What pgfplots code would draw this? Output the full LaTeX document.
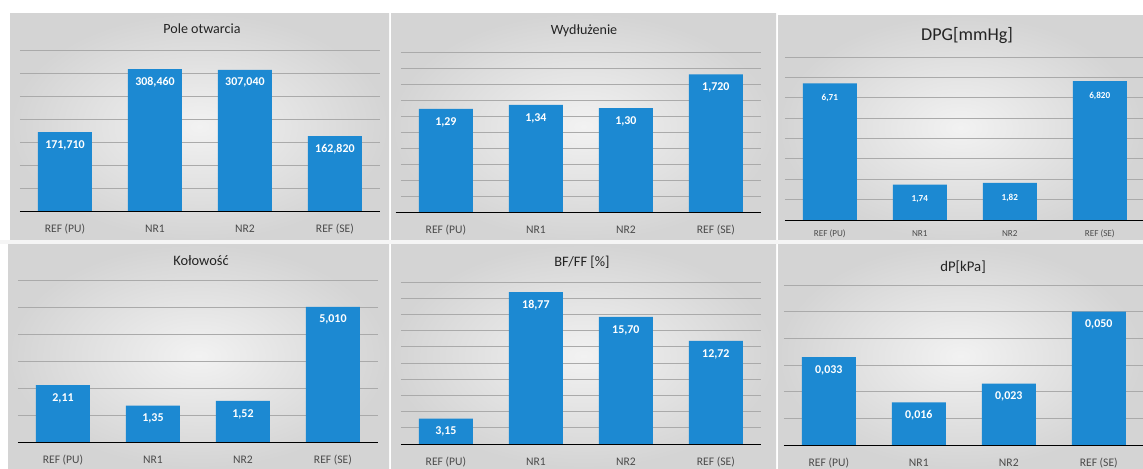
\documentclass[border=0pt]{standalone}
\usepackage{fontspec}
\setmainfont{Carlito}
\usepackage{pgfplots}
\pgfplotsset{compat=1.18}

\definecolor{barblue}{RGB}{28,137,210}
\definecolor{gridgray}{RGB}{170,170,170}
\definecolor{labgray}{RGB}{75,75,75}
\definecolor{titlegray}{RGB}{35,35,35}
\definecolor{panelin}{RGB}{242,242,242}
\definecolor{panelout}{RGB}{212,212,212}

\pgfplotsset{
  panel/.style={
    scale only axis,
    width=7.2cm,
    ymin=0,
    xmin=-0.5, xmax=3.5,
    xtick={0,1,2,3},
    xticklabels={REF (PU),NR1,NR2,REF (SE)},
    axis line style={draw=none},
    xtick style={draw=none},
    ytick style={draw=none},
    yticklabels={},
    scaled y ticks=false,
    ymajorgrids,
    grid style={gridgray, line width=0.5pt},
    xticklabel style={anchor=center, yshift=-6pt, text=labgray,
      font=\fontsize{6.6}{7}\selectfont},
    ybar,
    bar width=0.6,
    clip=false,
    nodes near coords,
    point meta=explicit symbolic,
    every node near coord/.append style={anchor=north, yshift=-1.2pt,
      text=white, font=\fontsize{6.8}{7}\selectfont\bfseries},
    anchor=south west,
  },
  baseline/.style={black, line width=0.9pt},
}

\begin{document}
\begin{tikzpicture}[x=0.02cm, y=0.02cm]
\useasboundingbox (0,0) rectangle (1143,468);
\fill[white] (0,0) rectangle (1143,468);

% panel backgrounds
\foreach \xa/\xb/\ya/\yb in {10/389/228/455, 391/776/228/455, 778/1143/228/453,
                             8/389/0/224, 391/776/0/224, 778/1143/0/224}
  \shade[inner color=panelin, outer color=panelout] (\xa,\ya) rectangle (\xb,\yb);

% titles
\node[text=titlegray, font=\fontsize{8}{9}\selectfont] at (202,439) {Pole otwarcia};
\node[text=titlegray, font=\fontsize{8}{9}\selectfont] at (584,437) {Wydłużenie};
\node[text=titlegray, font=\fontsize{10.3}{11}\selectfont] at (967,432) {DPG[mmHg]};
\node[text=titlegray, font=\fontsize{8.2}{9}\selectfont] at (201,207) {Kołowość};
\node[text=titlegray, font=\fontsize{8.2}{9}\selectfont] at (582,206) {BF/FF [\%]};
\node[text=titlegray, font=\fontsize{8.4}{9}\selectfont] at (963,201) {dP[kPa]};

% thin light seam between the two rows
\fill[white!92!gray] (0,224) rectangle (1143,228);

% Pole otwarcia
\begin{axis}[panel, at={(0.40cm,5.14cm)}, height=3.22cm, ymax=350, ytick distance=50]
\addplot[fill=barblue, draw=none] table[x=x, y=y, meta=lab] {
x y lab
0 171.71 171,710
1 308.46 308,460
2 307.04 307,040
3 162.82 162,820
};
\draw[baseline] (rel axis cs:0,0) -- (rel axis cs:1,0);
\end{axis}

% Wydluzenie
\begin{axis}[panel, at={(8.02cm,5.12cm)}, height=3.2cm, ymax=2, ytick distance=0.2]
\addplot[fill=barblue, draw=none] table[x=x, y=y, meta=lab] {
x y lab
0 1.29 1,29
1 1.34 1,34
2 1.30 1,30
3 1.72 1,720
};
\draw[baseline] (rel axis cs:-0.015,0) -- (rel axis cs:1,0);
\end{axis}

% DPG
\begin{axis}[panel, at={(15.70cm,4.96cm)}, height=3.26cm, ymax=8, ytick distance=1,
  xticklabel style={font=\fontsize{5.2}{6}\selectfont, yshift=2.6pt},
  every node near coord/.append style={font=\fontsize{5.2}{6}\selectfont\bfseries, yshift=-1.5pt}]
\addplot[fill=barblue, draw=none] table[x=x, y=y, meta=lab] {
x y lab
0 6.71 6,71
1 1.74 1,74
2 1.82 1,82
3 6.82 6,820
};
\draw[baseline] (rel axis cs:0,0) -- (rel axis cs:1,0);
\end{axis}

% Kolowosc
\begin{axis}[panel, at={(0.36cm,0.52cm)}, height=3.24cm, ymax=6, ytick distance=1]
\addplot[fill=barblue, draw=none] table[x=x, y=y, meta=lab] {
x y lab
0 2.11 2,11
1 1.35 1,35
2 1.52 1,52
3 5.01 5,010
};
\draw[baseline] (rel axis cs:0,0) -- (rel axis cs:1,0);
\end{axis}

% BF/FF
\begin{axis}[panel, at={(8.02cm,0.48cm)}, height=3.24cm, ymax=20, ytick distance=2]
\addplot[fill=barblue, draw=none] table[x=x, y=y, meta=lab] {
x y lab
0 3.15 3,15
1 18.77 18,77
2 15.70 15,70
3 12.72 12,72
};
\draw[baseline] (rel axis cs:0,0) -- (rel axis cs:1,0);
\end{axis}

% dP
\begin{axis}[panel, at={(15.68cm,0.46cm)}, height=3.2cm, ymax=0.06, ytick distance=0.01]
\addplot[fill=barblue, draw=none] table[x=x, y=y, meta=lab] {
x y lab
0 0.033 0,033
1 0.016 0,016
2 0.023 0,023
3 0.050 0,050
};
\draw[baseline] (rel axis cs:0,0) -- (rel axis cs:1,0);
\end{axis}
\end{tikzpicture}
\end{document}
